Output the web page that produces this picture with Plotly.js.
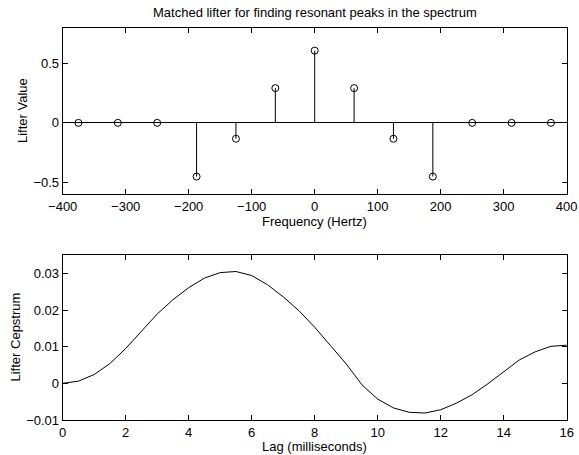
<!DOCTYPE html>
<html>
<head>
<meta charset="utf-8">
<script src="https://cdn.plot.ly/plotly-3.0.1.min.js"></script>
<style>html,body{margin:0;padding:0;background:#fff;}#chart{width:579px;height:455px;}</style>
</head>
<body>
<div id="chart"></div>
<script>
// Top: matched lifter (stem plot)
const freqHz = [-375, -312.5, -250, -187.5, -125, -62.5, 0, 62.5, 125, 187.5, 250, 312.5, 375];
const lifterValue = [0, 0, 0, -0.453, -0.134, 0.293, 0.609, 0.293, -0.134, -0.453, 0, 0, 0];

// Bottom: lifter cepstrum
const lagMs = [0, 0.5, 1, 1.5, 2, 2.5, 3, 3.5, 4, 4.5, 5, 5.5, 6, 6.5, 7, 7.5, 8, 8.5, 9, 9.5, 10, 10.5, 11, 11.5, 12, 12.5, 13, 13.5, 14, 14.5, 15, 15.5, 16];
const cepstrum = [0.0000, 0.0006, 0.0024, 0.0054, 0.0095, 0.0143, 0.0189, 0.0228, 0.0261, 0.0287, 0.0302, 0.0305, 0.0294, 0.0269, 0.0236, 0.0198, 0.0153, 0.0103, 0.0053, -0.0004, -0.0043, -0.0067, -0.0079, -0.0081, -0.0072, -0.0054, -0.0031, -0.0001, 0.0032, 0.0064, 0.0086, 0.0101, 0.0104];

const xTop = [-400, -300, -200, -100, 0, 100, 200, 300, 400];
const yTop = [-0.5, 0, 0.5];
const xBot = [0, 2, 4, 6, 8, 10, 12, 14, 16];
const yBot = [-0.01, 0, 0.01, 0.02, 0.03];

const titleText = "Matched lifter for finding resonant peaks in the spectrum";
const xTitleTop = "Frequency (Hertz)";
const yTitleTop = "Lifter Value";
const xTitleBot = "Lag (milliseconds)";
const yTitleBot = "Lifter Cepstrum";

// build stems from data
const stemX = [], stemY = [];
freqHz.forEach((f, i) => { stemX.push(f, f, null); stemY.push(0, lifterValue[i], null); });

const FONT = {family: "Liberation Sans, Arial, sans-serif", size: 13, color: "#000"};
const H = 455;

const traces = [
  {x: stemX, y: stemY, xaxis: "x", yaxis: "y", mode: "lines", line: {color: "#000", width: 1}, hoverinfo: "skip", showlegend: false},
  {x: freqHz, y: lifterValue, xaxis: "x", yaxis: "y", mode: "markers", marker: {symbol: "circle-open", size: 7, color: "#000", line: {width: 1, color: "#000"}}, showlegend: false},
  {x: lagMs, y: cepstrum, xaxis: "x2", yaxis: "y2", mode: "lines", line: {color: "#000", width: 1}, showlegend: false}
];

const axBase = {
  showgrid: false, zeroline: false, showline: true, mirror: "ticks", linecolor: "#000", linewidth: 1,
  ticks: "inside", ticklen: 5, tickcolor: "#000", tickwidth: 1, tickfont: FONT, automargin: false
};

const xd = [62.7/579, 566.7/579];
const ydTop = [(H - 194)/H, (H - 28)/H];
const ydBot = [(H - 420)/H, (H - 255)/H];
const xc = (xd[0] + xd[1]) / 2;

function ann(text, x, y, xanchor, yanchor, angle) {
  return {text: text, xref: "paper", yref: "paper", x: x, y: y, xanchor: xanchor, yanchor: yanchor,
    showarrow: false, font: FONT, textangle: angle || 0, borderpad: 0};
}

const layout = {
  width: 579, height: H,
  margin: {l: 0, r: 0, t: 0, b: 0},
  paper_bgcolor: "#fff", plot_bgcolor: "#fff",
  font: FONT,
  showlegend: false,
  xaxis: Object.assign({}, axBase, {domain: xd, anchor: "y", range: [-400, 400], tickmode: "array", tickvals: xTop}),
  yaxis: Object.assign({}, axBase, {domain: ydTop, anchor: "x", range: [-0.6, 0.8], tickmode: "array", tickvals: yTop,
    zeroline: true, zerolinecolor: "#000", zerolinewidth: 1}),
  xaxis2: Object.assign({}, axBase, {domain: xd, anchor: "y2", range: [0, 16], tickmode: "array", tickvals: xBot}),
  yaxis2: Object.assign({}, axBase, {domain: ydBot, anchor: "x2", range: [-0.01, 0.035], tickmode: "array", tickvals: yBot}),
  annotations: [
    ann(titleText, xc, 1 - 12/H, "center", "middle"),
    ann(xTitleTop, xc, 1 - 221/H, "center", "middle"),
    ann(yTitleTop, 22/579, (ydTop[0] + ydTop[1]) / 2, "center", "middle", -90),
    ann(xTitleBot, xc, 0, "center", "bottom"),
    ann(yTitleBot, 15/579, (ydBot[0] + ydBot[1]) / 2, "center", "middle", -90)
  ]
};

Plotly.newPlot("chart", traces, layout, {staticPlot: true, displayModeBar: false});
</script>
</body>
</html>
